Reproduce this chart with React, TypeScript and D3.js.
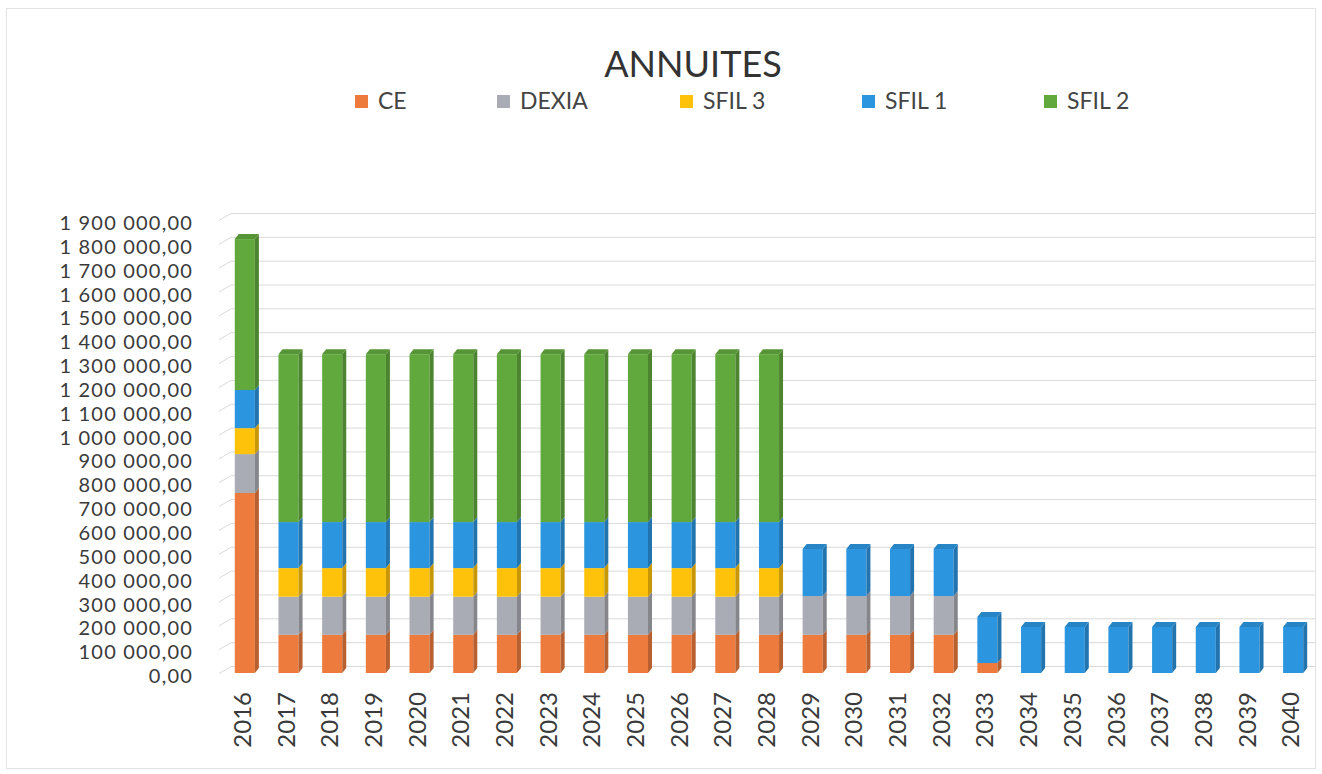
import React from "react";
import * as d3 from "d3";

const years = ["2016","2017","2018","2019","2020","2021","2022","2023","2024","2025","2026","2027","2028","2029","2030","2031","2032","2033","2034","2035","2036","2037","2038","2039","2040"];
const seriesNames = ["CE", "DEXIA", "SFIL 3", "SFIL 1", "SFIL 2"];
const ceValues = [755000,160000,160000,160000,160000,160000,160000,160000,160000,160000,160000,160000,160000,160000,160000,160000,160000,42000,0,0,0,0,0,0,0];
const dexiaValues = [163000,160000,160000,160000,160000,160000,160000,160000,160000,160000,160000,160000,160000,163000,163000,163000,163000,0,0,0,0,0,0,0,0];
const sfil3Values = [109000,120000,120000,120000,120000,120000,120000,120000,120000,120000,120000,120000,120000,0,0,0,0,0,0,0,0,0,0,0,0];
const sfil1Values = [160000,193000,193000,193000,193000,193000,193000,193000,193000,193000,193000,193000,193000,197000,197000,197000,197000,193000,193000,193000,193000,193000,193000,193000,193000];
const sfil2Values = [633000,704000,704000,704000,704000,704000,704000,704000,704000,704000,704000,704000,704000,0,0,0,0,0,0,0,0,0,0,0,0];
const yTicks = [0,100000,200000,300000,400000,500000,600000,700000,800000,900000,1000000,1100000,1200000,1300000,1400000,1500000,1600000,1700000,1800000,1900000];
const colors = ["#EE7B3E", "#A9ACB4", "#FFC20A", "#2C95DF", "#62A93D"];

const W = 1322, H = 774;
const DX = 4, DY = 5; // bar depth
const WALL = 7;

export default function App() {
  const x = d3.scaleBand<string>().domain(years).range([223, 1315]).paddingInner(0.54).paddingOuter(0.27);
  const y = d3.scaleLinear().domain([0, 1900000]).range([673, 220]);
  const locale = d3.formatLocale({ decimal: ",", thousands: " ", grouping: [3], currency: ["", " €"] });
  const fmt = locale.format(",.2f");

  const table = years.map((yr, i) => ({
    year: yr,
    "CE": ceValues[i],
    "DEXIA": dexiaValues[i],
    "SFIL 3": sfil3Values[i],
    "SFIL 1": sfil1Values[i],
    "SFIL 2": sfil2Values[i],
  }));
  const stacked = d3.stack<any>().keys(seriesNames)(table);

  const legendX = [355, 497, 680, 862, 1044];
  const font = "Lato, 'Open Sans', sans-serif";

  const topIndex = years.map((_, i) => {
    let t = -1;
    stacked.forEach((s, k) => { if (s[i][1] > s[i][0]) t = k; });
    return t;
  });

  return (
    <svg width={W} height={H} style={{ position: "absolute", left: 0, top: 0, background: "#fff" }} fontFamily={font}>
      <rect x={6.5} y={8.5} width={1309} height={760} fill="#fff" stroke="#e3e3e3" />
      <text x={693} y={77} textAnchor="middle" fontSize={36} fill="#333">ANNUITES</text>
      {seriesNames.map((n, k) => (
        <g key={n}>
          <rect x={legendX[k]} y={95} width={13} height={13} fill={colors[k]} />
          <text x={legendX[k] + 23} y={109} fontSize={23} fill="#444">{n}</text>
        </g>
      ))}
      {yTicks.map((t) => (
        <g key={t}>
          <path d={`M219,${y(t) + 0.5} L${219 + 12},${y(t) - WALL + 0.5} L1316,${y(t) - WALL + 0.5}`} fill="none" stroke="#dadada" strokeWidth={1} />
          <text x={193} y={y(t) + 5} textAnchor="end" dominantBaseline="middle" fontSize={20} letterSpacing={1.2} fill="#3a3a3a">{fmt(t)}</text>
        </g>
      ))}
      {stacked.map((s, k) => {
        const c = colors[k];
        const side = d3.color(c)!.darker(0.7).formatHex();
        const top = d3.color(c)!.darker(0.35).formatHex();
        return (
          <g key={seriesNames[k]}>
            {s.map((d, i) => {
              if (d[1] <= d[0]) return null;
              const x0 = x(years[i])!;
              const bw = x.bandwidth();
              const y0 = y(d[0]);
              const y1 = y(d[1]);
              return (
                <g key={i}>
                  <rect x={x0} y={y1} width={bw} height={y0 - y1} fill={c} />
                  <path d={`M${x0 + bw},${y1} L${x0 + bw + DX},${y1 - DY} L${x0 + bw + DX},${y0 - DY} L${x0 + bw},${y0} Z`} fill={side} />
                  {topIndex[i] === k && (
                    <path d={`M${x0},${y1} L${x0 + DX},${y1 - DY} L${x0 + bw + DX},${y1 - DY} L${x0 + bw},${y1} Z`} fill={top} />
                  )}
                </g>
              );
            })}
          </g>
        );
      })}
      {years.map((yr) => {
        const cx = x(yr)! + x.bandwidth() / 2;
        return (
          <text key={yr} transform={`translate(${cx},${692}) rotate(-90)`} textAnchor="end" dominantBaseline="middle" fontSize={24} fill="#3a3a3a">{yr}</text>
        );
      })}
    </svg>
  );
}
